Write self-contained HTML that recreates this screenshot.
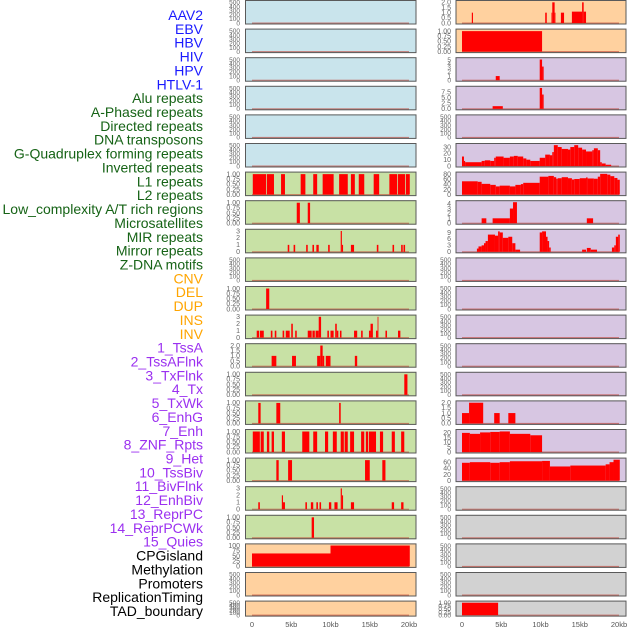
<!DOCTYPE html>
<html><head><meta charset="utf-8"><style>
body{margin:0;background:#fff;width:630px;height:630px;overflow:hidden}
svg{display:block;font-family:"Liberation Sans",sans-serif}
</style></head><body>
<svg id="c" width="630" height="630"></svg>
<script>
const trackLabels=["AAV2","EBV","HBV","HIV","HPV","HTLV-1","Alu repeats","A-Phased repeats","Directed repeats","DNA transposons","G-Quadruplex forming repeats","Inverted repeats","L1 repeats","L2 repeats","Low_complexity A/T rich regions","Microsatellites","MIR repeats","Mirror repeats","Z-DNA motifs","CNV","DEL","DUP","INS","INV","1_TssA","2_TssAFlnk","3_TxFlnk","4_Tx","5_TxWk","6_EnhG","7_Enh","8_ZNF_Rpts","9_Het","10_TssBiv","11_BivFlnk","12_EnhBiv","13_ReprPC","14_ReprPCWk","15_Quies","CPGisland","Methylation","Promoters","ReplicationTiming","TAD_boundary"];
const labelColors=["#1a1aff","#1a1aff","#1a1aff","#1a1aff","#1a1aff","#1a1aff","#166316","#166316","#166316","#166316","#166316","#166316","#166316","#166316","#166316","#166316","#166316","#166316","#166316","#ffa500","#ffa500","#ffa500","#ffa500","#ffa500","#9b30f0","#9b30f0","#9b30f0","#9b30f0","#9b30f0","#9b30f0","#9b30f0","#9b30f0","#9b30f0","#9b30f0","#9b30f0","#9b30f0","#9b30f0","#9b30f0","#9b30f0","#000","#000","#000","#000","#000"];
const xTicks=[0,5,10,15,20];
const xTickLabels=["0","5kb","10kb","15kb","20kb"];
const tEmpty=[0,100,200,300,400,500];
const tUnit=[0,0.25,0.5,0.75,1];
const L6=[[0.1,1.8,1],[1.9,2.8,1],[3.7,4.2,1],[6.2,6.8,1],[7.8,8.3,1],[9.0,10.4,1],[11.1,12.2,1],[12.6,13.1,1],[13.6,14.3,1],[15.5,16.2,1],[17.5,18.5,1],[18.6,19.5,1],[19.6,20.1,1]];
const L7=[[5.7,6.1,1],[7.1,7.4,1]];
const L8=[[4.55,4.75,1],[5.3,5.5,1],[6.9,7.1,1],[7.7,7.9,1],[8.2,8.5,1],[9.7,9.9,1],[11.3,11.45,3],[11.45,11.6,1],[12.6,13.0,1],[15.9,16.1,1],[17.9,18.1,1],[19.0,19.2,1],[19.3,19.5,1]];
const L10=[[1.8,2.2,1]];
const L11=[[0.6,0.9,1],[1.0,1.5,1],[2.4,2.6,1],[2.9,3.1,1],[3.9,4.1,1],[4.3,4.8,1],[5.0,5.2,2],[5.5,5.7,1],[7.1,7.6,1],[7.7,8.0,1],[8.1,8.5,1],[8.5,8.8,3],[9.6,9.8,1],[10.0,10.4,1],[10.6,10.8,2],[10.8,11.0,1],[11.2,11.4,1],[13.0,13.4,1],[13.9,14.1,1],[14.9,15.1,1],[15.1,15.4,2],[15.8,16.0,1],[16.0,16.1,3],[17.0,17.2,1],[18.6,18.9,1]];
const L12=[[2.5,3.1,1],[5.1,5.6,1],[8.3,8.7,1],[8.7,9.0,2],[9.0,9.2,1],[9.4,10.0,1],[13.1,13.4,1]];
const L13=[[19.4,19.8,1]];
const L14=[[0.8,1.1,1],[3.1,3.6,1],[11.1,11.3,1]];
const L15=[[0.1,1.0,1],[1.1,1.5,1],[1.9,2.2,1],[2.5,2.8,1],[3.8,4.2,1],[6.4,7.3,1],[7.8,8.3,1],[9.3,9.7,1],[10.3,10.8,1],[11.3,11.7,1],[11.8,12.2,1],[12.5,13.0,1],[13.9,14.3,1],[14.5,14.8,1],[14.9,15.8,1],[16.3,16.7,1],[17.8,18.2,1],[19.0,19.4,1]];
const L16=[[3.1,3.4,1],[4.6,5.1,1],[14.4,15.0,1],[16.6,17.0,1]];
const L17=[[0.8,1.0,1],[3.8,3.95,2],[3.95,4.2,1],[6.8,7.0,1],[7.5,7.8,1],[8.2,8.4,1],[8.6,8.8,1],[9.8,10.1,1],[10.5,10.9,1],[11.3,11.45,3],[11.45,11.6,2],[12.6,13.0,1],[17.8,18.1,1],[19.0,19.3,1]];
const L18=[[7.6,7.9,1]];
const L19=[[0,10,62],[10,20.1,100]];
const R0=[[1.25,1.4,1],[10.6,10.8,1],[11.4,11.5,1],[11.5,11.8,2],[11.8,11.9,1],[12.6,13.0,1],[14.0,15.3,1.1],[15.3,15.5,2],[15.5,15.8,1.1]];
const R1=[[0,10.2,1]];
const R2=[[4.3,4.8,1],[9.9,10.2,5],[10.2,10.4,3.3]];
const R3=[[3.9,5.2,1.2],[9.9,10.2,9.5],[10.2,10.4,6.5]];
const R5=[[0,0.25,15],[0.25,0.4,8],[0.4,2.5,6],[2.5,2.9,8],[2.9,3.6,9],[3.6,4.1,8],[4.1,4.3,13],[4.3,5.3,15],[5.3,6.1,13],[6.1,6.6,15],[6.6,7.1,16],[7.1,7.8,15],[7.8,8.2,12],[8.2,8.7,10],[8.7,9.9,8],[9.9,10.6,13],[10.6,11.2,18],[11.2,11.5,17],[11.5,11.7,22],[11.7,12.2,33],[12.2,12.7,30],[12.7,13.5,27],[13.5,13.8,26],[13.8,14.3,30],[14.3,14.8,33],[14.8,15.3,29],[15.3,15.8,26],[15.8,16.6,23],[16.6,16.8,25],[16.8,17.3,28],[17.3,17.6,25],[17.6,17.8,6],[17.8,18.3,4],[18.3,19.0,2]];
const R6=[[0,2,52],[2,2.5,50],[2.5,3.6,42],[3.6,4.3,38],[4.3,4.8,32],[4.8,6.1,35],[6.1,6.8,32],[6.8,7.5,38],[7.5,7.8,41],[7.8,9.9,46],[9.9,11,70],[11,11.7,73],[11.7,12,68],[12,12.2,62],[12.2,12.7,64],[12.7,13.5,68],[13.5,14,64],[14,14.3,59],[14.3,15,61],[15,15.8,64],[15.8,16,67],[16,16.8,63],[16.8,17.3,62],[17.3,17.6,70],[17.6,18.5,81],[18.5,18.9,78],[18.9,19.4,72],[19.4,19.8,65],[19.8,20.1,58]];
const R7=[[2.5,3.1,1],[3.9,6.1,1],[6.1,6.5,3],[6.5,7.0,4.3],[15.9,16.7,1]];
const R8=[[1.9,2.1,1.5],[2.1,2.5,2.5],[2.5,2.8,3],[2.8,3.0,4],[3.0,3.3,5],[3.3,4.2,8],[4.2,4.6,7.5],[4.6,4.8,9.5],[4.8,5.2,9],[5.2,5.9,6.5],[5.9,6.4,7],[6.4,6.8,4],[6.8,7.4,1],[9.9,10.2,9],[10.2,10.7,9.5],[10.7,10.9,7],[10.9,11.1,5],[11.1,11.3,2],[15.3,15.8,1],[15.9,16.4,1.8],[16.4,17.2,1],[19.1,19.4,2],[19.4,19.6,3],[19.6,19.9,7],[19.9,20.1,8]];
const R14=[[0,0.9,1],[0.9,2.7,2],[4.1,4.8,1],[5.9,6.8,1]];
const R15=[[0,1,20],[1,2.3,19],[2.3,3.6,20.5],[3.6,4.8,21],[4.8,6.1,21.5],[6.1,8.7,19],[8.7,10.2,17.5]];
const R16=[[0,1,58],[1,3.6,60],[3.6,4.8,58],[4.8,6.1,60],[6.1,10.2,63],[10.2,11.2,64],[11.2,13.8,46],[13.8,18.3,49],[18.3,18.8,53],[18.8,19.3,60],[19.3,20.1,68]];
const R21=[[0,4.6,1]];

const BLUE="#c9e4ec",GREEN="#c8e1a5",ORANGE="#ffd19f",PURPLE="#d7c6e2",GRAY="#d2d2d2";
const unitLabels=["0.00","0.25","0.50","0.75","1.00"];
const leftPanels=[];
const rightPanels=[];
function E(bg){return {s:[],t:tEmpty,l:tEmpty.map(String),m:520,bg:bg};}
for(let i=0;i<6;i++)leftPanels.push(E(BLUE));
leftPanels.push({s:L6,t:tUnit,l:unitLabels,m:1.05,bg:GREEN});
leftPanels.push({s:L7,t:tUnit,l:unitLabels,m:1.05,bg:GREEN});
leftPanels.push({s:L8,t:[0,1,2,3],l:["0","1","2","3"],m:3.1,bg:GREEN});
leftPanels.push(E(GREEN));
leftPanels.push({s:L10,t:tUnit,l:unitLabels,m:1.05,bg:GREEN});
leftPanels.push({s:L11,t:[0,1,2,3],l:["0","1","2","3"],m:3.1,bg:GREEN});
leftPanels.push({s:L12,t:[0,0.5,1,1.5,2],l:["0.0","0.5","1.0","1.5","2.0"],m:2.08,bg:GREEN});
leftPanels.push({s:L13,t:tUnit,l:unitLabels,m:1.05,bg:GREEN});
leftPanels.push({s:L14,t:tUnit,l:unitLabels,m:1.05,bg:GREEN});
leftPanels.push({s:L15,t:tUnit,l:unitLabels,m:1.05,bg:GREEN});
leftPanels.push({s:L16,t:tUnit,l:unitLabels,m:1.05,bg:GREEN});
leftPanels.push({s:L17,t:[0,1,2,3],l:["0","1","2","3"],m:3.1,bg:GREEN});
leftPanels.push({s:L18,t:tUnit,l:unitLabels,m:1.05,bg:GREEN});
leftPanels.push({s:L19,t:[0,25,50,75,100],l:["0","25","50","75","100"],m:103,bg:ORANGE});
leftPanels.push(E(ORANGE));
leftPanels.push(E(ORANGE));
rightPanels.push({s:R0,t:[0,0.5,1,1.5,2],l:["0.0","0.5","1.0","1.5","2.0"],m:2.08,bg:ORANGE});
rightPanels.push({s:R1,t:tUnit,l:unitLabels,m:1.05,bg:ORANGE});
rightPanels.push({s:R2,t:[0,1,2,3,4,5],l:["0","1","2","3","4","5"],m:5.2,bg:PURPLE});
rightPanels.push({s:R3,t:[0,2.5,5,7.5],l:["0.0","2.5","5.0","7.5"],m:9.8,bg:PURPLE});
rightPanels.push(E(PURPLE));
rightPanels.push({s:R5,t:[0,10,20,30],l:["0","10","20","30"],m:34,bg:PURPLE});
rightPanels.push({s:R6,t:[0,20,40,60,80],l:["0","20","40","60","80"],m:84,bg:PURPLE});
rightPanels.push({s:R7,t:[0,1,2,3,4],l:["0","1","2","3","4"],m:4.4,bg:PURPLE});
rightPanels.push({s:R8,t:[0,3,6,9],l:["0","3","6","9"],m:10,bg:PURPLE});
for(let i=9;i<14;i++)rightPanels.push(E(PURPLE));
rightPanels.push({s:R14,t:[0,0.5,1,1.5,2],l:["0.0","0.5","1.0","1.5","2.0"],m:2.08,bg:PURPLE});
rightPanels.push({s:R15,t:[0,5,10,15,20],l:["0","5","10","15","20"],m:22.5,bg:PURPLE});
rightPanels.push({s:R16,t:[0,20,40,60],l:["0","20","40","60"],m:70,bg:PURPLE});
for(let i=17;i<21;i++)rightPanels.push(E(GRAY));
rightPanels.push({s:R21,t:tUnit,l:unitLabels,m:1.05,bg:GRAY});

const NS="http://www.w3.org/2000/svg";
const svg=document.getElementById('c');
function mk(tag,attrs,parent){const e=document.createElementNS(NS,tag);for(const k in attrs)e.setAttribute(k,attrs[k]);(parent||svg).appendChild(e);return e;}

trackLabels.forEach((t,i)=>{
  const e=mk('text',{x:203,y:15+i*13.86+5,'text-anchor':'end','font-size':'14',fill:labelColors[i]});
  e.textContent=t;
  
  
});

function drawCol(panels,px0,px1,dx0,tickX,colName){
  const xs=kb=>dx0+kb*7.85;
  panels.forEach((p,i)=>{
    const top=i*28.6, h=(i===21)?16:24.5, bot=top+h;
    const g=mk('g',{});
    
    
    mk('rect',{x:px0,y:top,width:px1-px0,height:h,fill:p.bg},g);
    const ys=v=>bot-1.5-v/p.m*(h-3);
    mk('rect',{x:xs(0),y:bot-2,width:xs(20)-xs(0),height:1.2,fill:"#c0392b",opacity:0.6},g);
    p.s.forEach(s=>{
      const r=mk('rect',{x:xs(s[0]),y:ys(s[2]),width:Math.max(0.8,xs(s[1])-xs(s[0])),height:ys(0)-ys(s[2]),fill:"#ff0000"},g);
      
      
    });
    mk('rect',{x:px0+0.5,y:top+0.5,width:px1-px0-1,height:h-1,fill:"none",stroke:"#5a5a5a","stroke-width":1},g);
    const fs=(p.t.length>=6||h<20)?6.5:7;
    p.t.forEach((tv,j)=>{
      const e=mk('text',{x:tickX,y:ys(tv)+2.3,'text-anchor':'end','font-size':fs,fill:"#666"},g);
      e.textContent=p.l[j];
      
      
    });
  });
  xTicks.forEach((kb,j)=>{
    const e=mk('text',{x:xs(kb),y:627,'text-anchor':'middle','font-size':'7.5',fill:"#555"});
    e.textContent=xTickLabels[j];
    
    
  });
}
drawCol(leftPanels,245,416.5,252,240,'left');
drawCol(rightPanels,455.5,626.5,462,451,'right');
</script>
</body></html>
